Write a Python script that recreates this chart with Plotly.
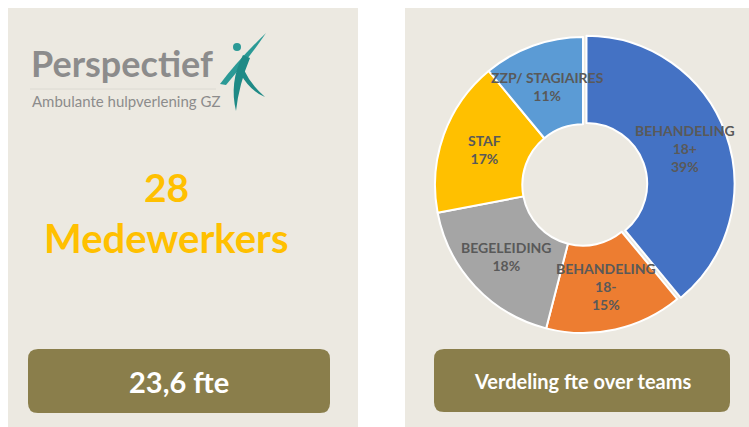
import math
import plotly.graph_objects as go

# ---------- data ----------
teams = ["BEHANDELING<br>18+", "BEHANDELING<br>18-", "BEGELEIDING", "STAF", "ZZP/ STAGIAIRES"]
fte_share = [39, 15, 18, 17, 11]
team_colors = ["#4472C4", "#ED7D31", "#A5A5A5", "#FFC000", "#5B9BD5"]
pull = [0.025, 0, 0, 0, 0]

headcount_label = "28"
headcount_text = "Medewerkers"
fte_label = "23,6 fte"
chart_caption = "Verdeling fte over teams"
brand_name = "Perspectief"
brand_tagline = "Ambulante hulpverlening GZ"

W, H = 749, 427
PANEL = "#ECE9E1"
BOX = "#8A7E4B"
FONT = "Lato"
HOLE = 0.41


def rounded_rect(x0, y0, x1, y1, r):
    return (f"M {x0+r} {y0} L {x1-r} {y0} Q {x1} {y0} {x1} {y0+r} "
            f"L {x1} {y1-r} Q {x1} {y1} {x1-r} {y1} L {x0+r} {y1} "
            f"Q {x0} {y1} {x0} {y1-r} L {x0} {y0+r} Q {x0} {y0} {x0+r} {y0} Z")


fig = go.Figure()

# donut (centre ~ (583,185) px, radius ~148 px)
cx, cy, r_out = 583, 185, 148
rad = r_out * (1 + max(pull))
fig.add_trace(go.Pie(
    labels=teams, values=fte_share, sort=False, direction="clockwise", rotation=0,
    hole=HOLE, pull=pull,
    marker=dict(colors=team_colors, line=dict(color="white", width=2)),
    textinfo="none",
    hoverinfo="label+percent", showlegend=False,
    domain=dict(x=[(cx - rad) / W, (cx + rad) / W],
                y=[1 - (cy + rad) / H, 1 - (cy - rad) / H]),
))

# slice labels Excel-style: on the bisector, halfway through the ring
annotations = []
total = sum(fte_share)
cum = 0
r_mid = r_out * (1 + HOLE) / 2
for lab, v, p in zip(teams, fte_share, pull):
    ang = 2 * math.pi * (cum + v / 2) / total
    cum += v
    rr = r_mid + p * r_out
    annotations.append(dict(
        x=cx + rr * math.sin(ang), y=cy - rr * math.cos(ang),
        text=f"<b>{lab}<br>{round(100 * v / total)}%</b>",
        font=dict(family=FONT, size=14, color="#595959"),
    ))

shapes = [
    dict(type="rect", x0=8, x1=358, y0=8, y1=427, fillcolor=PANEL, line_width=0, layer="below"),
    dict(type="rect", x0=405, x1=749, y0=8, y1=427, fillcolor=PANEL, line_width=0, layer="below"),
    dict(type="path", path=rounded_rect(28, 349, 330, 413, 10), fillcolor=BOX, line_width=0),
    dict(type="path", path=rounded_rect(434, 349, 730, 412, 10), fillcolor=BOX, line_width=0),
    # logo rule
    dict(type="line", x0=30, x1=216, y0=89, y1=89, line=dict(color="#DCDAD2", width=1)),
    # logo figure
    dict(type="circle", x0=233, x1=241, y0=43, y1=51, fillcolor="#2B9A96", line_width=0),
    dict(type="path", path="M 220 84 Q 238 60 266 33 Q 247 61 226 85 Z", fillcolor="#2B9A96", line_width=0),
    dict(type="path", path="M 243 55 Q 229 82 236 111 Q 239 84 250 58 Z", fillcolor="#1F8A86", line_width=0),
    dict(type="path", path="M 240 73 Q 250 91 265 97 Q 251 85 244 70 Z", fillcolor="#1F8A86", line_width=0),
]
for s in shapes:
    s.update(xref="x", yref="y")

annotations += [
    dict(x=29, y=63, text=f"<b>{brand_name}</b>", xanchor="left", yanchor="middle",
         font=dict(family=FONT, size=36, color="#8C8C8C")),
    dict(x=30, y=101, text=brand_tagline, xanchor="left", yanchor="middle",
         font=dict(family=FONT, size=15, color="#8C8C8C")),
    dict(x=166, y=187, text=f"<b>{headcount_label}</b>", font=dict(family=FONT, size=39, color="#FFC000")),
    dict(x=166, y=238, text=f"<b>{headcount_text}</b>", font=dict(family=FONT, size=40, color="#FFC000")),
    dict(x=179, y=381, text=f"<b>{fte_label}</b>", font=dict(family=FONT, size=29, color="white")),
    dict(x=582, y=381, text=f"<b>{chart_caption}</b>", font=dict(family=FONT, size=20, color="white")),
]
for a in annotations:
    a.update(xref="x", yref="y", showarrow=False)

fig.update_layout(
    width=W, height=H, margin=dict(l=0, r=0, t=0, b=0),
    paper_bgcolor="white", plot_bgcolor="rgba(0,0,0,0)",
    xaxis=dict(range=[0, W], visible=False, fixedrange=True),
    yaxis=dict(range=[H, 0], visible=False, fixedrange=True),
    shapes=shapes, annotations=annotations,
)

# page body default margin would shift the figure by 8px
fig.write_html("out.html", config={"displayModeBar": False},
               post_script="document.body.style.margin='0';")
